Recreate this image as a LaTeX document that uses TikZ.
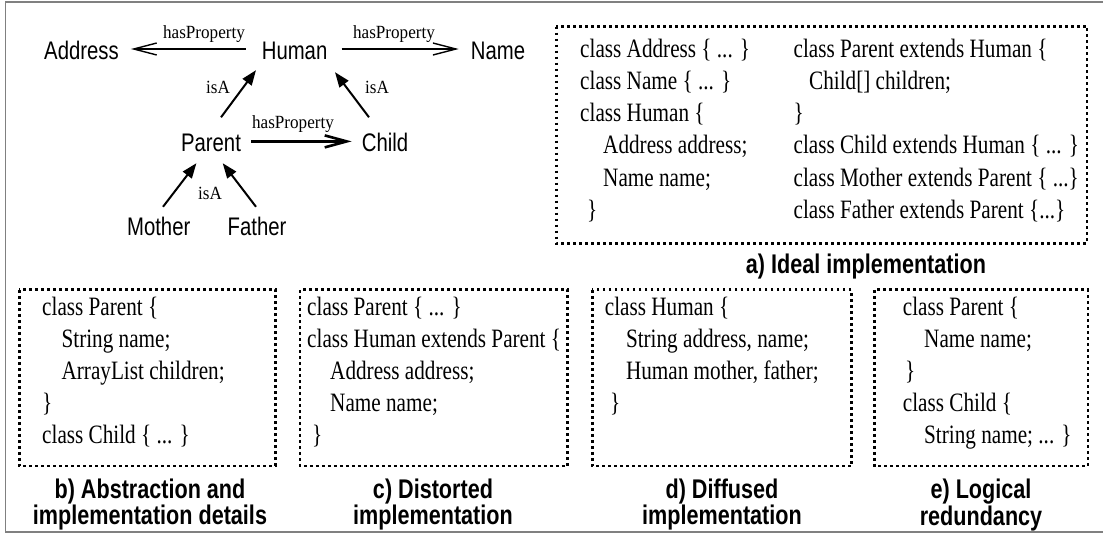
\documentclass[tikz,border=0pt]{standalone}
\usepackage{fontspec}
\setmainfont{Liberation Serif}[FakeStretch=0.8]
\newfontfamily\entityfont{Liberation Sans}[FakeStretch=0.8]
\newfontfamily\relfont{Liberation Serif}[FakeStretch=0.92]
\usetikzlibrary{arrows.meta}

\tikzset{
  entity/.style={font=\entityfont\fontsize{25.4}{30}\selectfont, inner sep=0pt,
                 text height=18pt, text depth=0pt, anchor=center},
  rel/.style={font=\relfont\fontsize{18.6}{22}\selectfont, inner sep=0pt, anchor=base},
  code/.style={font=\fontsize{26.5}{32}\selectfont, inner sep=0pt, anchor=base west},
  caption/.style={font=\entityfont\bfseries\fontsize{27}{24.5}\selectfont, inner sep=0pt,
                  align=center},
  dotbox/.style={line width=2.8pt, dash pattern=on 2.8pt off 3.2pt},
  hasprop/.style={line width=1.4pt, -{Straight Barb[length=23pt,width=12pt,line width=1.4pt]}},
  hasprop thick/.style={line width=3pt, -{Straight Barb[length=22pt,width=12pt,line width=2.6pt]}},
  isa/.style={line width=2pt, -{Triangle[length=15pt,width=11pt]}},
}

\begin{document}
\begin{tikzpicture}[x=1pt,y=-1pt]
\useasboundingbox (0,0) rectangle (1103,533);

% outer frame
\draw[black!50, line width=1.6pt] (1104,2) -- (5.5,2) -- (5.5,532) -- (1104,532);

% ---------- concept graph ----------
\node[entity] (address) at (81.5,50.5) {Address};
\node[entity] (human)   at (294.6,50.5) {Human};
\node[entity] (name)    at (498,50.5) {Name};
\node[entity] (parent)  at (211,142) {Parent};
\node[entity] (child)   at (385,142) {Child};
\node[entity] (mother)  at (158.7,226.6) {Mother};
\node[entity] (father)  at (257,226.6) {Father};

\draw[hasprop] ([xshift=-16pt,yshift=1.5pt]human.west) -- ([xshift=12pt,yshift=1.5pt]address.east);
\draw[hasprop] ([xshift=14pt,yshift=1.5pt]human.east) -- ([xshift=-12pt,yshift=1.5pt]name.west);
\draw[hasprop thick] ([xshift=10pt,yshift=0.6pt]parent.east) -- ([xshift=-10pt,yshift=0.6pt]child.west);

\draw[isa] ([xshift=10pt,yshift=15.5pt]parent.north) -- ([xshift=-38.6pt,yshift=-10.5pt]human.south);
\draw[isa] ([xshift=-16pt,yshift=15.5pt]child.north) -- ([xshift=40.4pt,yshift=-12.5pt]human.south);
\draw[isa] ([xshift=4.3pt,yshift=10.6pt]mother.north) -- ([xshift=-14.6pt,yshift=-12pt]parent.south);
\draw[isa] ([xshift=-1pt,yshift=10.6pt]father.north) -- ([xshift=11.7pt,yshift=-12pt]parent.south);

\node[rel] (hp1) at (204,38.6) {hasProperty};
\node[rel] (hp2) at (394,38.6) {hasProperty};
\node[rel] (hp3) at (293,128) {hasProperty};
\node[rel] (isa1) at (218,93.5) {isA};
\node[rel] (isa2) at (377,93.5) {isA};
\node[rel] (isa3) at (210,199) {isA};

% ---------- a) ideal implementation ----------
\draw[dotbox] (556.3,26.5) rectangle (1087,243.4);
\node[code] (a1) at (580,57)    {class Address \{ ... \}};
\node[code] (a2) at (580,89.3)  {class Name \{ ... \}};
\node[code] (a3) at (580,121.6) {class Human \{};
\node[code] (a4) at (603,153.9) {Address address;};
\node[code] (a5) at (603,186.2) {Name name;};
\node[code] (a6) at (587,218.5) {\}};
\node[code] (a7) at (793.4,57)    {class Parent extends Human \{};
\node[code] (a8) at (809,89.3)    {Child[] children;};
\node[code] (a9) at (793.4,121.6) {\}};
\node[code] (a10) at (793.4,153.9) {class Child extends Human \{ ... \}};
\node[code] (a11) at (793.4,186.2) {class Mother extends Parent \{ ...\}};
\node[code] (a12) at (793.4,218.5) {class Father extends Parent \{...\}};
\node[caption, anchor=base] (capa) at (866,273.4) {a) Ideal implementation};

% ---------- b) abstraction and implementation details ----------
\draw[dotbox] (19.3,289.8) rectangle (275.3,466);
\node[code] (b1) at (42,315) {class Parent \{};
\node[code] (b2) at (61.4,347) {String name;};
\node[code] (b3) at (61.4,379) {ArrayList children;};
\node[code] (b4) at (42,411) {\}};
\node[code] (b5) at (42,443) {class Child \{ ... \}};
\node[caption, anchor=north] (capb) at (150,479) {b) Abstraction and\\implementation details};

% ---------- c) distorted implementation ----------
\draw[dotbox] (300,289.8) rectangle (567.6,466);
\node[code] (c1) at (307,315) {class Parent \{ ... \}};
\node[code] (c2) at (307,347) {class Human extends Parent \{};
\node[code] (c3) at (330,379) {Address address;};
\node[code] (c4) at (330,411) {Name name;};
\node[code] (c5) at (312,443) {\}};
\node[caption, anchor=north] (capc) at (433,479) {c) Distorted\\implementation};

% ---------- d) diffused implementation ----------
\draw[dotbox] (592.3,289.8) rectangle (851.6,466);
\node[code] (d1) at (604.7,315) {class Human \{};
\node[code] (d2) at (625.8,347) {String address, name;};
\node[code] (d3) at (625.8,379) {Human mother, father;};
\node[code] (d4) at (610,411) {\}};
\node[caption, anchor=north] (capd) at (722,479) {d) Diffused\\implementation};

% ---------- e) logical redundancy ----------
\draw[dotbox] (874.5,289.8) rectangle (1088,466);
\node[code] (e1) at (902.7,315) {class Parent \{};
\node[code] (e2) at (924,347) {Name name;};
\node[code] (e3) at (905,379) {\}};
\node[code] (e4) at (902.7,411) {class Child \{};
\node[code] (e5) at (924,443) {String name; ... \}};
\node[caption, anchor=north] (cape) at (981,479) {e) Logical\\redundancy};

\end{tikzpicture}
\end{document}
